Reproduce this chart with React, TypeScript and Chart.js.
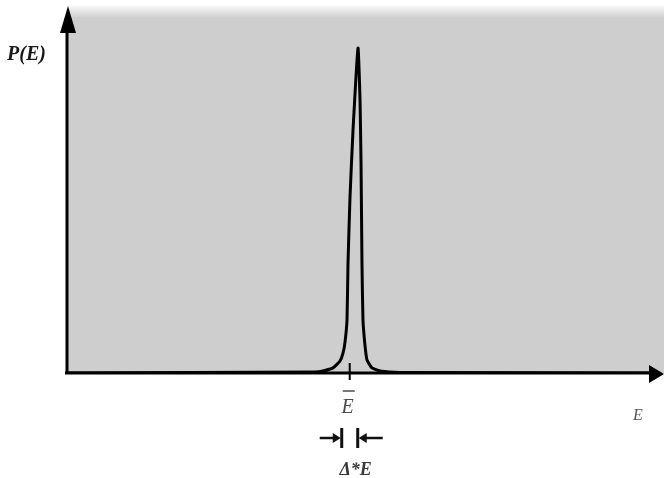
import React, { useEffect, useRef } from "react";
import { Chart, registerables } from "chart.js";

Chart.register(...registerables);

// Energy (arbitrary units, 0..100 along the horizontal axis)
const energyValues = [
  0, 42.1, 43.46, 45.16, 46.35, 46.86, 47.2, 47.54, 47.71, 48.05, 48.56, 49.41,
  49.75, 49.92, 50.08, 50.25, 50.59, 50.93, 51.78, 53.14, 56.5, 100,
];
// Probability P(E) (arbitrary units, 0..100 along the vertical axis)
const probabilityValues = [
  0, 0.28, 0.55, 1.4, 3.3, 5.5, 8.5, 14.6, 30.3, 48.5, 66.9, 89.5,
  75.2, 57.9, 30.3, 14.6, 7.7, 3.6, 1.4, 0.55, 0.14, 0,
];
const meanEnergy = 48.0;

const yLabel = "P(E)";
const xLabel = "E";
const meanLabel = "E";
const widthLabel = "Δ*E";

const decorPlugin = {
  id: "decor",
  beforeDraw(chart: any) {
    const { ctx, chartArea, width } = chart;
    ctx.save();
    ctx.fillStyle = "#ffffff";
    ctx.fillRect(0, 0, width, chart.height);
    const top = 4;
    const g = ctx.createLinearGradient(0, top, 0, top + 14);
    g.addColorStop(0, "rgba(206,206,206,0)");
    g.addColorStop(1, "rgba(206,206,206,1)");
    ctx.fillStyle = g;
    ctx.fillRect(chartArea.left, top, width - chartArea.left, 14);
    ctx.fillStyle = "#cecece";
    ctx.fillRect(chartArea.left, top + 14, width - chartArea.left, chartArea.bottom - top - 14);
    ctx.restore();
  },
  afterDatasetsDraw(chart: any) {
    const { ctx, chartArea, scales } = chart;
    const x0 = chartArea.left;
    const y0 = chartArea.bottom;
    ctx.save();
    ctx.strokeStyle = "#000";
    ctx.fillStyle = "#000";
    ctx.lineWidth = 3;
    // y axis
    ctx.beginPath();
    ctx.moveTo(x0, y0 + 1);
    ctx.lineTo(x0, 28);
    ctx.stroke();
    ctx.beginPath();
    ctx.moveTo(x0 + 1, 6);
    ctx.lineTo(x0 - 7, 33);
    ctx.lineTo(x0 + 9, 33);
    ctx.closePath();
    ctx.fill();
    // x axis
    ctx.beginPath();
    ctx.moveTo(x0 - 2, y0);
    ctx.lineTo(652, y0);
    ctx.stroke();
    ctx.beginPath();
    ctx.moveTo(664, y0 + 1);
    ctx.lineTo(649, y0 - 8);
    ctx.lineTo(649, y0 + 10);
    ctx.closePath();
    ctx.fill();
    // mean tick
    const xm = scales.x.getPixelForValue(meanEnergy);
    ctx.lineWidth = 2;
    ctx.beginPath();
    ctx.moveTo(xm, y0 - 10);
    ctx.lineTo(xm, y0 + 7);
    ctx.stroke();

    // labels
    ctx.fillStyle = "#1a1a1a";
    ctx.font = 'bold italic 20px "Liberation Serif", "DejaVu Serif", serif';
    ctx.textAlign = "left";
    ctx.textBaseline = "alphabetic";
    ctx.fillText(yLabel, 7, 60);

    ctx.fillStyle = "#4a4a4a";
    ctx.textAlign = "center";
    ctx.font = 'italic 20px "Liberation Serif", "DejaVu Serif", serif';
    ctx.fillText(meanLabel, xm - 2, 413);
    ctx.strokeStyle = "#4a4a4a";
    ctx.lineWidth = 1.5;
    ctx.beginPath();
    ctx.moveTo(xm - 7, 391);
    ctx.lineTo(xm + 5, 391);
    ctx.stroke();

    ctx.fillStyle = "#555";
    ctx.font = 'italic 16px "Liberation Serif", "DejaVu Serif", serif';
    ctx.fillText(xLabel, 638, 420);

    // width arrows
    ctx.strokeStyle = "#111";
    ctx.fillStyle = "#111";
    ctx.lineWidth = 2.5;
    const ay = 438;
    const lb = xm - 8;
    const rb = xm + 8;
    ctx.beginPath();
    ctx.moveTo(lb - 22, ay);
    ctx.lineTo(lb - 4, ay);
    ctx.stroke();
    ctx.beginPath();
    ctx.moveTo(lb - 1, ay);
    ctx.lineTo(lb - 9, ay - 5);
    ctx.lineTo(lb - 9, ay + 5);
    ctx.closePath();
    ctx.fill();
    ctx.lineWidth = 3;
    ctx.beginPath();
    ctx.moveTo(lb, ay - 10);
    ctx.lineTo(lb, ay + 10);
    ctx.moveTo(rb, ay - 10);
    ctx.lineTo(rb, ay + 10);
    ctx.stroke();
    ctx.lineWidth = 2.5;
    ctx.beginPath();
    ctx.moveTo(rb + 4, ay);
    ctx.lineTo(rb + 25, ay);
    ctx.stroke();
    ctx.beginPath();
    ctx.moveTo(rb + 1, ay);
    ctx.lineTo(rb + 9, ay - 5);
    ctx.lineTo(rb + 9, ay + 5);
    ctx.closePath();
    ctx.fill();

    ctx.fillStyle = "#3a3a3a";
    ctx.font = 'bold italic 18px "Liberation Serif", "DejaVu Serif", serif';
    ctx.fillText(widthLabel, xm + 6, 475);
    ctx.restore();
  },
};

export default function App() {
  const ref = useRef<HTMLCanvasElement | null>(null);
  useEffect(() => {
    if (!ref.current) return;
    const chart = new Chart(ref.current, {
      type: "line",
      data: {
        datasets: [
          {
            data: energyValues.map((e, i) => ({ x: e, y: probabilityValues[i] })),
            borderColor: "#000",
            borderWidth: 3,
            pointRadius: 0,
            tension: 0.15,
            fill: false,
          },
        ],
      },
      options: {
        responsive: false,
        animation: false,
        layout: { padding: { left: 67, top: 10, right: 8, bottom: 105 } },
        plugins: { legend: { display: false }, tooltip: { enabled: false } },
        scales: {
          x: { type: "linear", min: 0, max: 100, display: false },
          y: { type: "linear", min: 0, max: 100, display: false },
        },
      },
      plugins: [decorPlugin],
    });
    return () => chart.destroy();
  }, []);
  return (
    <div style={{ position: "absolute", left: 0, top: 0, width: 664, height: 478 }}>
      <canvas ref={ref} width={664} height={478} />
    </div>
  );
}
